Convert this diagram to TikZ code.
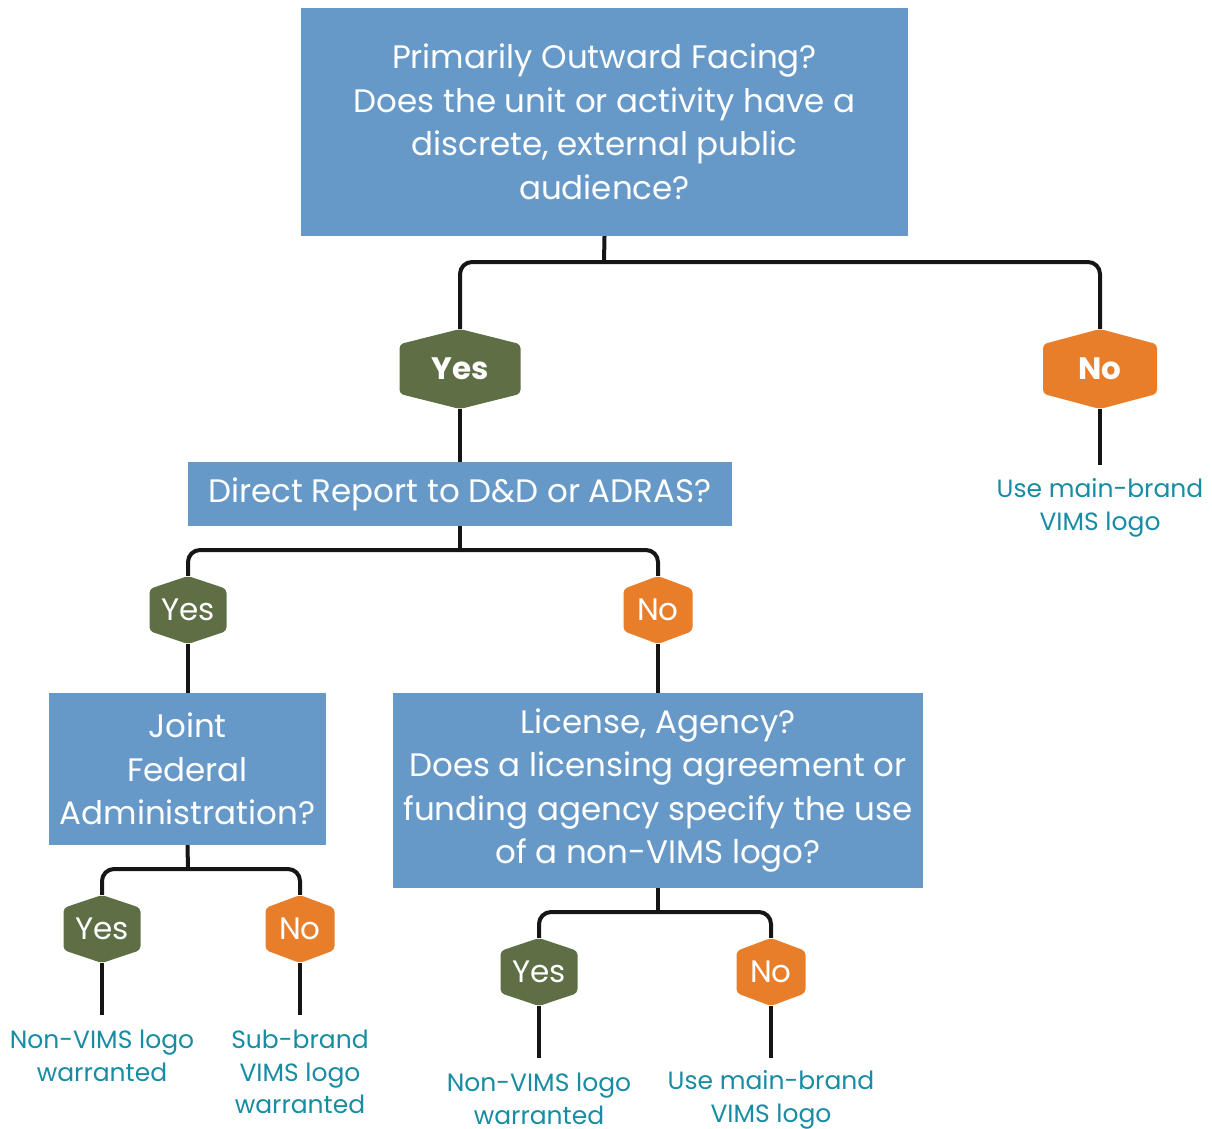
\documentclass[tikz,border=0pt]{standalone}
\usepackage{fontspec}
\setmainfont{Poppins}
\usetikzlibrary{calc}
\definecolor{boxblue}{HTML}{6699C8}
\definecolor{yesgreen}{HTML}{5E6F45}
\definecolor{noorange}{HTML}{E87D2A}
\definecolor{tealtext}{HTML}{178CA3}
\definecolor{linecol}{HTML}{151515}
\begin{document}
\begin{tikzpicture}[x=1pt,y=-1pt,
  qbox/.style={fill=boxblue, text=white, align=center, inner sep=0pt,
    font=\fontsize{32.5}{43.5}\selectfont},
  hexshape/.style={inner sep=0pt, text=white,
    path picture={\fill[#1, rounded corners=4pt]
      (path picture bounding box.north) --
      ($(path picture bounding box.north east)!0.19!(path picture bounding box.south east)$) --
      ($(path picture bounding box.north east)!0.81!(path picture bounding box.south east)$) --
      (path picture bounding box.south) --
      ($(path picture bounding box.north west)!0.81!(path picture bounding box.south west)$) --
      ($(path picture bounding box.north west)!0.19!(path picture bounding box.south west)$) -- cycle;}},
  bigyes/.style={hexshape=yesgreen, minimum width=121pt, minimum height=80pt, font=\fontsize{31}{36}\selectfont\bfseries},
  bigno/.style={hexshape=noorange, minimum width=114pt, minimum height=80pt, font=\fontsize{31}{36}\selectfont\bfseries},
  smyes/.style={hexshape=yesgreen, minimum width=77pt, minimum height=68pt, font=\fontsize{31}{36}\selectfont},
  smno/.style={hexshape=noorange, minimum width=69pt, minimum height=68pt, font=\fontsize{31}{36}\selectfont},
  result/.style={text=tealtext, align=center, inner sep=0pt, font=\fontsize{25}{32.5}\selectfont},
  conn/.style={line width=4pt, draw=linecol, rounded corners=12pt},
]
\useasboundingbox (0,0) rectangle (1212,1128);

% question boxes
\node[qbox, minimum width=607pt, minimum height=228pt] (top) at (604.5,122)
  {Primarily Outward Facing?\\Does the unit or activity have a\\discrete, external public\\audience?};
\node[qbox, minimum width=544pt, minimum height=64pt] (direct) at (460,494)
  {\raisebox{-3pt}{Direct Report to D\&D or ADRAS?}};
\node[qbox, minimum width=277pt, minimum height=152pt] (joint) at (187.5,769)
  {Joint\\Federal\\Administration?};
\node[qbox, minimum width=530pt, minimum height=195pt] (lic) at (658,790.5)
  {\raisebox{-3pt}{\parbox{520pt}{\centering License, Agency?\\Does a licensing agreement or\\funding agency specify the use\\of a non-VIMS logo?}}};

% hexagons
\node[bigyes] (ya) at (460,369) {Yes};
\node[bigno] (na) at (1100,369) {No};
\node[smyes] (yb) at (188,610) {Yes};
\node[smno] (nb) at (658,610) {No};
\node[smyes] (yc) at (102,929) {Yes};
\node[smno] (nc) at (300,929) {No};
\node[smyes] (yd) at (539,972) {Yes};
\node[smno] (nd) at (771,972) {No};

% results
\node[result] (ra) at (1100,508) {Use main-brand\\VIMS logo};
\node[result] (rc1) at (102,1056) {Non-VIMS logo\\warranted};
\node[result] (rc2) at (300,1072) {Sub-brand\\VIMS logo\\warranted};
\node[result] (rd1) at (539,1099) {Non-VIMS logo\\warranted};
\node[result] (rd2) at (771,1100) {Use main-brand\\VIMS logo};

% junctions and line ends
\coordinate (j1) at (604,262);
\coordinate (j2) at (460,550);
\coordinate (j3) at (188,869);
\coordinate (j4) at (658,912);
\coordinate (ea) at (1100,465);
\coordinate (ec1) at (102,1015);
\coordinate (ec2) at (300,1015);
\coordinate (ed1) at (539,1058);
\coordinate (ed2) at (771,1058);

% connectors
\draw[conn] (top.south) -- (j1);
\draw[conn] (j1) -| (ya.north);
\draw[conn] (j1) -| (na.north);
\draw[conn] (ya.south) -- (direct.north);
\draw[conn] (na.south) -- (ea);

\draw[conn] (direct.south) -- (j2);
\draw[conn] (j2) -| (yb.north);
\draw[conn] (j2) -| (nb.north);
\draw[conn] (yb.south) -- (yb.south |- joint.north);
\draw[conn] (nb.south) -- (lic.north);

\draw[conn] (joint.south) -- (j3);
\draw[conn] (j3) -| (yc.north);
\draw[conn] (j3) -| (nc.north);
\draw[conn] (yc.south) -- (ec1);
\draw[conn] (nc.south) -- (ec2);

\draw[conn] (lic.south) -- (j4);
\draw[conn] (j4) -| (yd.north);
\draw[conn] (j4) -| (nd.north);
\draw[conn] (yd.south) -- (ed1);
\draw[conn] (nd.south) -- (ed2);
\end{tikzpicture}
\end{document}
